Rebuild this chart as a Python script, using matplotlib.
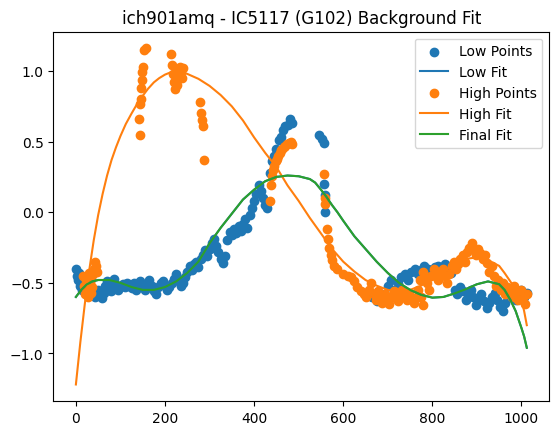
#!/usr/bin/env python
"""Background fit plot for ich901amq - IC5117 (G102)."""

import matplotlib

matplotlib.use("Agg")
import matplotlib.pyplot as plt

# Low points (pixel index, normalised flux)
low_x = [0, 3, 5, 8, 10, 14, 18, 22, 26, 30, 34, 38, 42, 46, 50, 54, 58, 62, 66, 70,
         74, 78, 82, 86, 90, 95, 100, 105, 110, 115, 120, 125, 130, 135, 140, 145, 150,
         155, 160, 165, 170, 175, 180, 185, 190, 195, 200, 205, 210, 215, 220, 225, 230,
         235, 240, 245, 250, 255, 260, 265, 270, 275, 280, 285, 290, 295, 300, 305, 310,
         315, 320, 325, 330, 335, 340, 345, 350, 355, 360, 365, 370, 375, 380, 385, 390,
         395, 400, 405, 410, 415, 420, 425, 430, 435, 440, 445, 450, 455, 460, 465, 470,
         475, 480, 485, 545, 552, 557, 557, 558, 558,
         665, 675, 685, 692, 700, 708, 715, 722, 730, 738, 745, 752, 760, 768, 775, 782,
         790, 798, 805, 812, 820, 828, 835, 842, 850, 856, 862, 868, 875, 880, 886, 892,
         898, 904, 910, 916, 922, 928, 934, 940, 946, 952, 958, 964, 970, 976, 982, 988,
         994, 1000, 1006, 1012]
low_y = [-0.40, -0.45, -0.48, -0.43, -0.52, -0.55, -0.50, -0.56, -0.58, -0.53, -0.57,
         -0.55, -0.60, -0.58, -0.55, -0.58, -0.61, -0.57, -0.52, -0.49, -0.55, -0.56,
         -0.50, -0.47, -0.52, -0.55, -0.53, -0.51, -0.53, -0.50, -0.52, -0.54, -0.50,
         -0.55, -0.53, -0.49, -0.52, -0.55, -0.51, -0.48, -0.52, -0.56, -0.58, -0.53,
         -0.50, -0.49, -0.52, -0.55, -0.53, -0.50, -0.47, -0.44, -0.48, -0.52, -0.50,
         -0.46, -0.42, -0.38, -0.41, -0.37, -0.35, -0.39, -0.33, -0.30, -0.27, -0.31,
         -0.26, -0.22, -0.19, -0.24, -0.28, -0.33, -0.36, -0.31, -0.20, -0.14, -0.16,
         -0.12, -0.15, -0.10, -0.13, -0.08, -0.05, -0.11, -0.02, 0.03, 0.08, 0.13, 0.19,
         0.15, 0.10, 0.05, 0.03, 0.28, 0.36, 0.40, 0.45, 0.51, 0.53, 0.58, 0.61, 0.62,
         0.66, 0.63, 0.55, 0.52, 0.49, 0.20, 0.12, 0.00,
         -0.60, -0.63, -0.58, -0.62, -0.52, -0.48, -0.55, -0.50, -0.46, -0.44, -0.48,
         -0.42, -0.40, -0.44, -0.41, -0.38, -0.40, -0.42, -0.39, -0.38, -0.41, -0.37,
         -0.40, -0.43, -0.55, -0.58, -0.53, -0.56, -0.62, -0.58, -0.55, -0.60, -0.66,
         -0.62, -0.58, -0.63, -0.68, -0.64, -0.60, -0.57, -0.62, -0.67, -0.70, -0.64,
         -0.60, -0.56, -0.60, -0.62, -0.58, -0.55, -0.60, -0.57]

# High points
high_x = [15, 18, 20, 22, 25, 27, 29, 31, 33, 35, 37, 39, 41, 43, 45, 47,
          143, 142, 144, 146, 147, 148, 149, 150, 152, 157,
          213, 216, 218, 220, 222, 224, 226, 228, 230, 233, 235, 238, 240,
          279, 281, 283, 286, 288,
          436, 438, 440, 442, 445, 448, 451, 454, 457, 460, 463, 466, 470, 474, 478,
          482, 486, 557, 558, 558,
          563, 566, 569, 572, 575, 579, 585, 600, 610, 618, 625, 632, 640, 646, 652,
          658, 663, 668, 673, 678, 683, 688, 693, 698, 703, 708, 713, 718, 723, 728,
          733, 738, 743, 748, 753, 758, 763, 768, 773, 775, 778, 780, 783, 788, 793,
          798, 803, 808, 813, 818, 823, 828, 833, 838, 843, 848, 853, 858, 863, 868,
          873, 878, 883, 888, 893, 898, 903, 908, 913, 918, 923, 928, 933, 938, 943,
          948, 953, 958, 963, 968, 973, 978, 983, 988, 993, 998, 1003, 1008, 1012]
high_y = [-0.45, -0.52, -0.58, -0.48, -0.55, -0.60, -0.43, -0.50, -0.57, -0.47, -0.53,
          -0.44, -0.40, -0.35, -0.38, -0.42,
          0.55, 0.66, 0.77, 0.80, 0.88, 0.94, 0.99, 1.03, 1.15, 1.16,
          1.12, 1.04, 0.98, 0.92, 0.87, 0.95, 1.01, 0.90, 0.97, 1.03, 0.99, 0.95, 1.02,
          0.78, 0.70, 0.65, 0.61, 0.37,
          0.08, 0.19, 0.26, 0.30, 0.33, 0.36, 0.38, 0.40, 0.42, 0.44, 0.45, 0.46, 0.47,
          0.48, 0.49, 0.50, 0.48, 0.27, 0.10, 0.06,
          -0.12, -0.19, -0.25, -0.30, -0.34, -0.38, -0.40, -0.44, -0.45, -0.46, -0.49,
          -0.53, -0.56, -0.58, -0.60, -0.55, -0.50, -0.58, -0.62, -0.56, -0.60, -0.64,
          -0.58, -0.62, -0.65, -0.60, -0.56, -0.61, -0.63, -0.58, -0.55, -0.60, -0.62,
          -0.57, -0.60, -0.64, -0.61, -0.55, -0.48, -0.60, -0.42, -0.66, -0.45, -0.50,
          -0.55, -0.45, -0.40, -0.43, -0.48, -0.44, -0.40, -0.45, -0.50, -0.44, -0.38,
          -0.35, -0.40, -0.37, -0.33, -0.30, -0.35, -0.28, -0.25, -0.22, -0.27, -0.30,
          -0.26, -0.29, -0.33, -0.30, -0.36, -0.42, -0.38, -0.45, -0.52, -0.48, -0.55,
          -0.50, -0.58, -0.53, -0.56, -0.60, -0.52, -0.57, -0.62, -0.55, -0.60, -0.65,
          -0.58]

high_fit_x = [0, 10, 20, 30, 40, 50, 60, 70, 80, 90, 100, 112, 125, 137, 150, 162, 175,
              187, 200, 212, 225, 250, 275, 300, 325, 350, 375, 400, 425, 450, 475, 500,
              525, 550, 575, 600, 625, 650, 675, 700, 725, 750, 775, 800, 825, 850, 875,
              900, 925, 950, 962, 975, 987, 1000, 1006, 1012]
high_fit = [-1.22, -0.92, -0.65, -0.41, -0.20, -0.02, 0.13, 0.26, 0.37, 0.46, 0.54,
            0.625, 0.70, 0.765, 0.825, 0.875, 0.92, 0.95, 0.975, 0.99, 1.00, 0.98, 0.945,
            0.895, 0.83, 0.75, 0.65, 0.53, 0.42, 0.32, 0.19, 0.08, -0.04, -0.15, -0.26,
            -0.35, -0.42, -0.48, -0.52, -0.55, -0.56, -0.55, -0.52, -0.47, -0.42, -0.37,
            -0.33, -0.32, -0.34, -0.38, -0.43, -0.49, -0.55, -0.62, -0.70, -0.80]

final_fit_x = [0, 12, 25, 37, 50, 75, 100, 125, 150, 175, 200, 225, 250, 275, 300, 325,
               350, 375, 400, 425, 450, 475, 500, 525, 537, 550, 562, 575, 587, 600, 625,
               650, 675, 700, 725, 750, 775, 800, 825, 850, 875, 900, 925, 950, 962, 975,
               987, 1000, 1006, 1012]
final_fit = [-0.60, -0.55, -0.51, -0.49, -0.48, -0.48, -0.50, -0.53, -0.55, -0.55, -0.53,
             -0.49, -0.43, -0.35, -0.22, -0.11, -0.01, 0.09, 0.16, 0.22, 0.25, 0.26, 0.255,
             0.235, 0.21, 0.16, 0.11, 0.05, 0.0, -0.06, -0.17, -0.26, -0.35, -0.43, -0.50,
             -0.55, -0.585, -0.605, -0.60, -0.575, -0.545, -0.51, -0.49, -0.51, -0.55,
             -0.62, -0.70, -0.82, -0.88, -0.96]
low_fit = final_fit

fig, ax = plt.subplots(figsize=(6.4, 4.8))

ax.scatter(low_x, low_y, label="Low Points")
ax.plot(final_fit_x, low_fit, label="Low Fit")
ax.scatter(high_x, high_y, label="High Points")
ax.plot(high_fit_x, high_fit, label="High Fit")
ax.plot(final_fit_x, final_fit, label="Final Fit")

ax.set_title("ich901amq - IC5117 (G102) Background Fit")
ax.legend(loc="upper right")

plt.savefig("out.png", dpi=100, bbox_inches="tight")
